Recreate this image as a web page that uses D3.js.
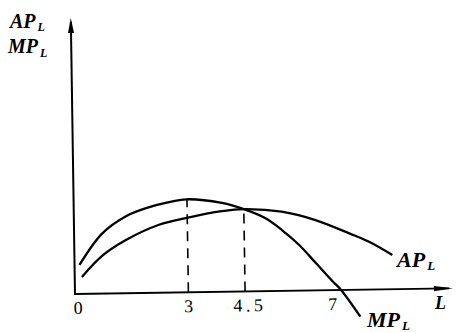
<!DOCTYPE html>
<html>
<head>
<meta charset="utf-8">
<script src="https://cdn.jsdelivr.net/npm/d3@7"></script>
<style>
  html, body { margin: 0; padding: 0; background: #fff; }
  svg { display: block; }
</style>
</head>
<body>
<script>
// ---- data ----
const mpL = [0.13, 0.74, 1.38, 1.98, 2.46, 2.99, 3.92, 4.5, 5.07, 5.5, 5.95, 6.39, 6.83, 7.04, 7.54];
const mpV = [2.9, 6.0, 7.7, 8.55, 9.0, 9.3, 8.88, 8.23, 7.28, 6.08, 4.56, 2.7, 0.84, 0.0, -2.7];
const apL = [0.19, 0.74, 1.38, 2.25, 2.99, 3.92, 4.5, 5.5, 6.39, 7.28, 7.8, 8.41];
const apV = [1.7, 3.8, 5.35, 6.8, 7.45, 8.06, 8.23, 7.92, 7.03, 5.65, 4.78, 3.42];
const tickValues = [0, 3, 4.5, 7];
const tickLabels = ["0", "3", "4.5", "7"];
const dropL = [3, 4.5];
const dropV = [9.3, 8.23];

const FONT = "Liberation Serif, DejaVu Serif, serif";
const W = 461, H = 333;
const svg = d3.select("body").append("svg").attr("width", W).attr("height", H)
  .style("font-family", FONT);
svg.append("rect").attr("width", W).attr("height", H).attr("fill", "#fff");

// frame: origin at bottom-left of axes, slightly rotated like the scan
const g = svg.append("g").attr("transform", "translate(75,294) rotate(-0.87)");

const x = d3.scaleLinear().domain([0, 10]).range([0, 378]);
const y = d3.scaleLinear().domain([0, 10]).range([0, -100]);

const xEnd = 378, yTop = -276;

// axes
g.append("line").attr("x1", 0).attr("y1", 0).attr("x2", xEnd - 4).attr("y2", 0)
  .attr("stroke", "#000").attr("stroke-width", 1.8);
g.append("line").attr("x1", 0).attr("y1", 1).attr("x2", 0).attr("y2", yTop + 4)
  .attr("stroke", "#000").attr("stroke-width", 2);
g.append("path").attr("d", `M${xEnd},0 L${xEnd - 19},-2.6 L${xEnd - 19},2.6 Z`).attr("fill", "#000");
g.append("path").attr("d", `M0,${yTop} L-3,${yTop + 15} L3,${yTop + 15} Z`).attr("fill", "#000");

// dashed drop lines
dropL.forEach((d, i) => {
  g.append("line")
    .attr("x1", x(d)).attr("x2", x(d))
    .attr("y1", y(0)).attr("y2", y(dropV[i]))
    .attr("stroke", "#000").attr("stroke-width", 1.6)
    .attr("stroke-dasharray", "10,7");
});

// curves
const line = d3.line().x(d => x(d[0])).y(d => y(d[1])).curve(d3.curveCatmullRom.alpha(0.5));
g.append("path").datum(mpL.map((d, i) => [d, mpV[i]]))
  .attr("d", line).attr("fill", "none").attr("stroke", "#000").attr("stroke-width", 2.3);
g.append("path").datum(apL.map((d, i) => [d, apV[i]]))
  .attr("d", line).attr("fill", "none").attr("stroke", "#000").attr("stroke-width", 2.3);

// tick labels
const nudge = v => (v === 0 ? 3 : v === 4.5 ? 4.5 : v === 7 ? -7 : 0);
g.selectAll("text.tick").data(tickValues).enter().append("text")
  .attr("class", "tick")
  .style("font-family", FONT)
  .attr("x", d => x(d) + nudge(d)).attr("y", 20)
  .attr("text-anchor", "middle")
  .attr("font-size", 18)
  .attr("fill", "#000")
  .attr("letter-spacing", (d, i) => tickLabels[i].length > 1 ? 3.5 : 0)
  .text((d, i) => tickLabels[i]);

// labels with subscript
function label(xp, yp, main, size, subSize, subDy) {
  const t = svg.append("text").attr("x", xp).attr("y", yp)
    .style("font-family", FONT).attr("fill", "#000")
    .attr("font-size", size).attr("font-style", "italic").attr("font-weight", "bold");
  t.append("tspan").text(main);
  if (subSize) {
    t.append("tspan").attr("dx", 2).attr("dy", subDy).attr("font-size", subSize).text("L");
  }
}
label(10, 28, "AP", 20, 12, 3);
label(8, 53, "MP", 20, 12, 4);
label(397, 267, "AP", 22, 13, 3);
label(367, 327, "MP", 22, 13, 3);
label(435, 309, "L", 18);
</script>
</body>
</html>
